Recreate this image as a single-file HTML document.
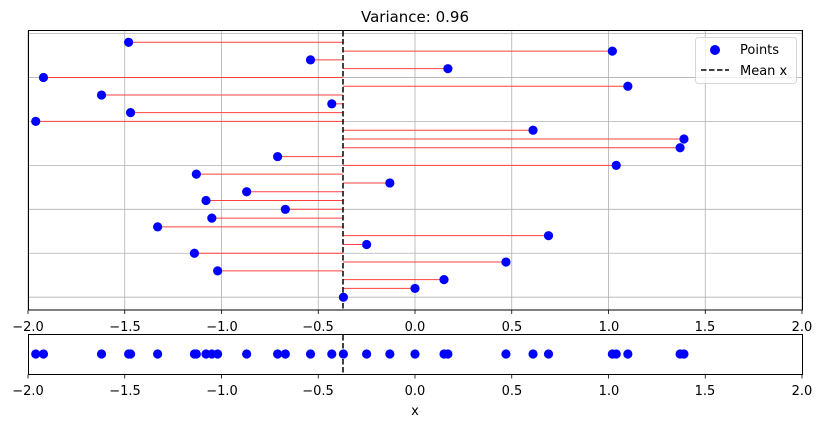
<!DOCTYPE html>
<html><head><meta charset="utf-8"><style>
html,body{margin:0;padding:0;background:#fff;}
svg{display:block;font-family:"DejaVu Sans","Liberation Sans",sans-serif;}
</style></head><body>
<svg id="s" width="823" height="427" viewBox="0 0 823 427" xmlns="http://www.w3.org/2000/svg">
<rect width="823" height="427" fill="#fff"/>
<g id="grid" stroke="#b0b0b0" stroke-width="0.8"></g>
<g id="lines" stroke="#ff4040" stroke-width="1"></g>
<line x1="343" y1="31" x2="343" y2="310" stroke="#000" stroke-width="1.5" stroke-dasharray="5.5,2.5"/>
<g id="pts" fill="#0000ff"></g>
<rect x="28.5" y="30.5" width="774" height="279.5" fill="none" stroke="#000" stroke-width="1"/>
<rect x="28.5" y="334.5" width="774" height="40" fill="none" stroke="#000" stroke-width="1"/>
<line x1="343" y1="335" x2="343" y2="374" stroke="#000" stroke-width="1.5" stroke-dasharray="5.5,2.5"/>
<g id="pts2" fill="#0000ff"></g>
<g id="ticks" stroke="#000" stroke-width="0.8"></g>
<g font-size="13" fill="#000" text-anchor="middle">
<text x="28" y="331">−2.0</text><text x="125" y="331">−1.5</text><text x="222" y="331">−1.0</text><text x="318" y="331">−0.5</text><text x="415" y="331">0.0</text><text x="512" y="331">0.5</text><text x="609" y="331">1.0</text><text x="705" y="331">1.5</text><text x="802" y="331">2.0</text>
<text x="28" y="395">−2.0</text><text x="125" y="395">−1.5</text><text x="222" y="395">−1.0</text><text x="318" y="395">−0.5</text><text x="415" y="395">0.0</text><text x="512" y="395">0.5</text><text x="609" y="395">1.0</text><text x="705" y="395">1.5</text><text x="802" y="395">2.0</text>
<text x="415" y="415">x</text>
<text x="415" y="22" font-size="15">Variance: 0.96</text>
</g>
<rect x="695.5" y="37.5" width="101" height="46" rx="3" fill="#fff" fill-opacity="0.8" stroke="#ccc" stroke-width="0.8"/>
<circle cx="715" cy="50" r="5" fill="#0000ff"/>
<line x1="701" y1="70" x2="729" y2="70" stroke="#000" stroke-width="1.5" stroke-dasharray="5.5,2.5"/>
<text x="740" y="54" font-size="13">Points</text>
<text x="740" y="75" font-size="13">Mean x</text>
</svg>
<script>
var xs=[-1.48,1.02,-0.54,0.17,-1.92,1.10,-1.62,-0.43,-1.47,-1.96,0.61,1.39,1.37,-0.71,1.04,-1.13,-0.13,-0.87,-1.08,-0.67,-1.05,-1.33,0.69,-0.25,-1.14,0.47,-1.02,0.15,0.00,-0.37];
var NS="http://www.w3.org/2000/svg";
function el(p,t,a){var e=document.createElementNS(NS,t);for(var k in a)e.setAttribute(k,a[k]);document.getElementById(p).appendChild(e);}
function X(v){return 415+193.5*v;}
for(var i=0;i<9;i++){var gx=28+i*96.75;el('grid','line',{x1:gx,y1:31,x2:gx,y2:310});
el('ticks','line',{x1:gx,y1:310,x2:gx,y2:314});el('ticks','line',{x1:gx,y1:374.5,x2:gx,y2:378.5});}
for(var j=0;j<7;j++){var gy=42.3+(5*j-1)*8.79;el('grid','line',{x1:28.5,y1:gy,x2:802.5,y2:gy});}
for(var i=0;i<xs.length;i++){var y=42.3+i*8.79,x=X(xs[i]);
el('lines','line',{x1:x,y1:y,x2:343,y2:y});
el('pts','circle',{cx:x,cy:y,r:4.6});
el('pts2','circle',{cx:x,cy:354,r:4.6});}
</script>
</body></html>
